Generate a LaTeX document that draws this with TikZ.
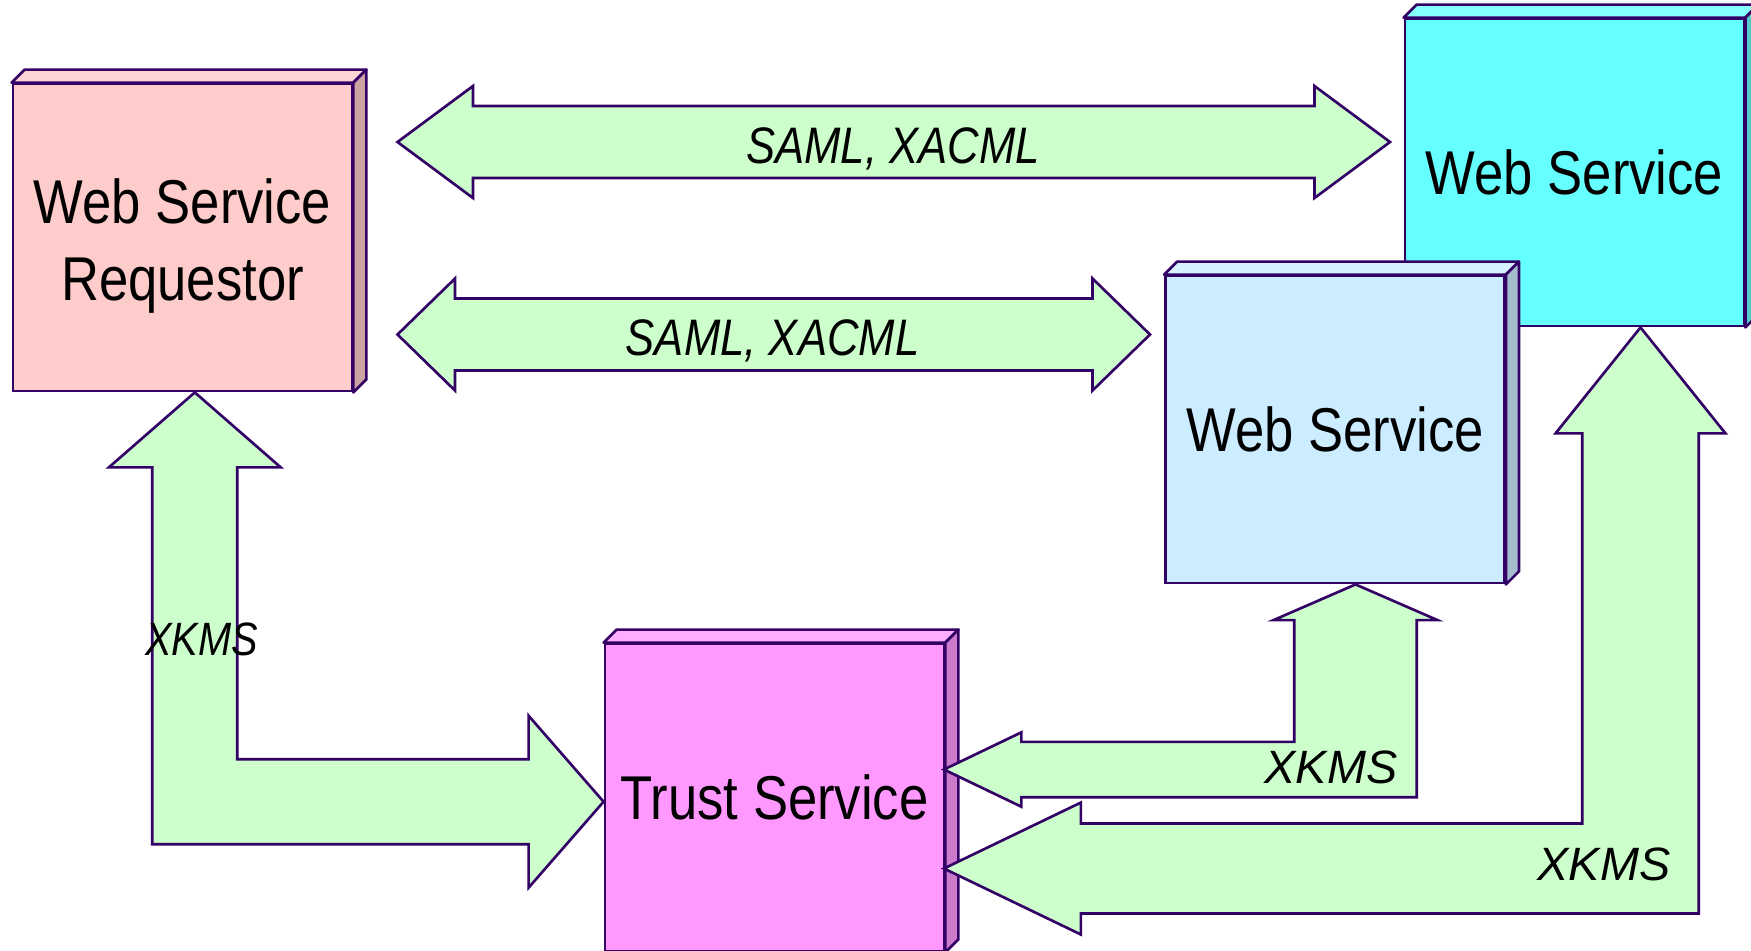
\documentclass[tikz,border=0pt]{standalone}
\usepackage{fontspec}
\setmainfont{Liberation Sans}[FakeStretch=0.85]
\newfontfamily\widesans{Liberation Sans}
\usetikzlibrary{calc}
\definecolor{ink}{HTML}{330066}
\definecolor{pass}{HTML}{CCFFCC}
\definecolor{reqc}{HTML}{FFCCCC}
\definecolor{wsc}{HTML}{66FFFF}
\definecolor{wsbc}{HTML}{CCECFF}
\definecolor{trc}{HTML}{FF99FF}

\begin{document}
\begin{tikzpicture}[x=0.01cm,y=-0.01cm,line width=0.75pt,
   srv/.style={draw=ink,minimum width=3.39cm,minimum height=3.07cm,inner sep=0pt,
               align=center,font=\fontsize{17.6}{21.8}\selectfont},
   face/.style={draw=ink,line join=round},
   blk/.style={draw=ink,fill=pass},
   lbl/.style={anchor=base,inner sep=0pt,font=\fontsize{14.6}{17}\selectfont\itshape},
   xk/.style={lbl,font=\fontsize{13.3}{16}\selectfont\widesans\itshape}]
  \useasboundingbox (0,0) rectangle (1751,950);
  \clip (0,0) rectangle (1751,950);

  % the four services
  \node[srv,fill=reqc] (req) at (182.5,237.5) {\rule{0pt}{17.5pt}Web Service\\Requestor};
  \node[srv,fill=wsc] (ws1) at (1574.5,172.5) {Web Service};
  \node[srv,fill=wsbc] (ws2) at (1335,429.5) {Web Service};
  \node[srv,fill=trc] (trust) at (774.5,797.5) {Trust Service};

  % top and side faces
  \foreach \n/\c in {req/reqc,ws1/wsc,ws2/wsbc,trust/trc} {
    \draw[face,fill=\c!80!white] (\n.north west) -- ++(13,-13)
      -- ([shift={(13,-13)}]\n.north east) -- (\n.north east) -- cycle;
    \draw[face,fill=\c!80!black] (\n.north east) -- ++(13,-13)
      -- ([shift={(13,-13)}]\n.south east) -- (\n.south east) -- cycle;
  }

  % SAML/XACML exchanges
  \coordinate (s1a) at (397.5,142);
  \coordinate (s1b) at (1390,142);
  \coordinate (s2a) at (397.5,334.5);
  \coordinate (s2b) at (1150,334.5);
  \foreach \a/\b/\h in {s1a/s1b/75.5,s2a/s2b/57.5}
    \draw[blk] (\a) -- ++(\h,-56) -- ++(0,20) -- ($(\b)+(-\h,-36)$) -- ++(0,-20) -- (\b)
      -- ++(-\h,56) -- ++(0,-20) -- ($(\a)+(\h,36)$) -- ++(0,20) -- cycle;

  % XKMS exchanges with the trust service
  \coordinate (e1a) at ([shift={(12.3,0)}]req.south);
  \coordinate (e1b) at ([shift={(0,4.2)}]trust.west);
  \draw[blk] (e1a) -- ++(-86,75) -- ++(43.5,0) |- ($(e1b)+(-75,42.5)$) -- ++(0,43.5)
    -- (e1b) -- ++(-75,-86) -- ++(0,43.5) -| ($(e1a)+(42.5,75)$) -- ++(43.5,0) -- cycle;

  \coordinate (e2a) at ([shift={(20.5,0)}]ws2.south);
  \coordinate (e2b) at ([shift={(-1.5,-28)}]trust.east);
  \draw[blk] (e2a) -- ++(-82,35.7) -- ++(20.7,0) |- ($(e2b)+(77.5,-27.7)$) -- ++(0,-9.5)
    -- (e2b) -- ++(77.5,37.2) -- ++(0,-9.5) -| ($(e2a)+(61.3,35.7)$) -- ++(20.7,0) -- cycle;

  \coordinate (e3a) at ([shift={(66,0)}]ws1.south);
  \coordinate (e3b) at ([shift={(-1.5,71)}]trust.east);
  \draw[blk] (e3a) -- ++(-85,106) -- ++(26.7,0) |- ($(e3b)+(137,-45)$) -- ++(0,-21)
    -- (e3b) -- ++(137,66) -- ++(0,-21) -| ($(e3a)+(58.3,106)$) -- ++(26.7,0) -- cycle;

  % labels
  \node[lbl] (p1) at (893,163.3) {SAML, XACML};
  \node[lbl] (p2) at (772.6,355) {SAML, XACML};
  \node[lbl,font=\fontsize{13.3}{16}\selectfont\itshape] (k1) at (201.7,655) {XKMS};
  \node[xk] (k2) at (1331,783.3) {XKMS};
  \node[xk] (k3) at (1604,880) {XKMS};
\end{tikzpicture}
\end{document}
